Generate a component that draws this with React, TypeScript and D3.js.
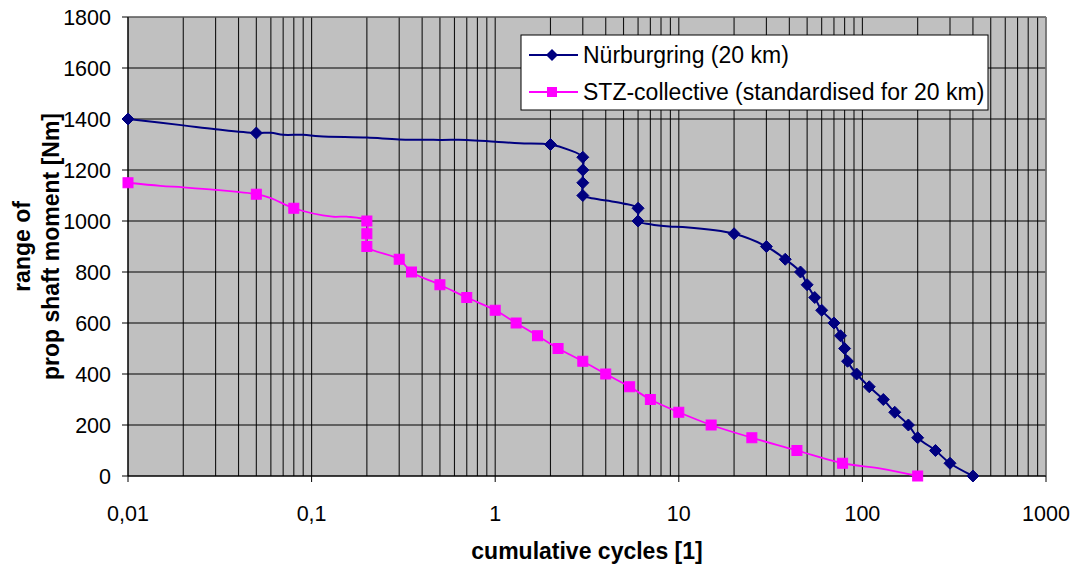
import React from "react";
import * as d3 from "d3";

// ---- data ----
const xTicks = [0.01, 0.1, 1, 10, 100, 1000];
const xTickLabels = ["0,01", "0,1", "1", "10", "100", "1000"];
const yTicks = [0, 200, 400, 600, 800, 1000, 1200, 1400, 1600, 1800];

const seriesNames = ["Nürburgring (20 km)", "STZ-collective (standardised for 20 km)"];

// Nürburgring: marker points
const nurMarkers: [number, number][] = [
  [0.01, 1400], [0.05, 1345], [2, 1300], [3, 1250], [3, 1200], [3, 1150], [3, 1100],
  [6, 1050], [6, 1000], [20, 950], [30, 900], [38, 850], [46, 800], [50, 750], [55, 700],
  [60, 650], [70, 600], [76, 550], [80, 500], [83, 450], [93, 400], [109, 350], [130, 300],
  [150, 250], [178, 200], [200, 150], [250, 100], [300, 50], [400, 0],
];
// Nürburgring: line trace (denser)
const nurLine: [number, number][] = [
  [0.01, 1400], [0.02, 1375], [0.03, 1360], [0.05, 1345], [0.06, 1346], [0.07, 1338],
  [0.09, 1338], [0.11, 1332], [0.2, 1327], [0.3, 1320], [0.5, 1318], [0.7, 1318],
  [1, 1311], [1.36, 1305], [2, 1300], [2.5, 1280], [3, 1250], [3, 1200], [3, 1150], [3, 1100],
  [3.27, 1091], [4.04, 1080], [4.97, 1069], [6, 1050], [6, 1000], [7, 987], [8.9, 978],
  [10.5, 976], [20, 950], [30, 900], [38, 850], [46, 800], [50, 750], [55, 700], [60, 650],
  [70, 600], [76, 550], [80, 500], [83, 450], [93, 400], [109, 350], [130, 300], [150, 250],
  [178, 200], [200, 150], [250, 100], [300, 50], [400, 0],
];

// STZ-collective: marker points
const stzMarkers: [number, number][] = [
  [0.01, 1150], [0.05, 1105], [0.08, 1050], [0.2, 1000], [0.2, 950], [0.2, 900], [0.3, 850],
  [0.35, 800], [0.5, 750], [0.7, 700], [1, 650], [1.3, 600], [1.7, 550], [2.2, 500], [3, 450],
  [4, 400], [5.4, 350], [7, 300], [10, 250], [15, 200], [25, 150], [44, 100], [78, 50], [200, 0],
];
// STZ-collective: line trace
const stzLine: [number, number][] = [
  [0.01, 1150], [0.015, 1138], [0.02, 1132], [0.03, 1122], [0.05, 1105], [0.06, 1090],
  [0.08, 1050], [0.13, 1017], [0.155, 1017], [0.2, 1000], [0.2, 950], [0.2, 900], [0.3, 850],
  [0.35, 800], [0.5, 750], [0.7, 700], [1, 650], [1.3, 600], [1.7, 550], [2.2, 500], [3, 450],
  [4, 400], [5.4, 350], [7, 300], [10, 250], [15, 200], [25, 150], [44, 100], [78, 50],
  [124, 30], [200, 0],
];

const NAVY = "#000080";
const PINK = "#FF00FF";

export default function App() {
  const W = 1074, H = 567;
  const left = 128, right = 1046, top = 17, bottom = 476;
  const x = d3.scaleLog().domain([0.01, 1000]).range([left, right]);
  const y = d3.scaleLinear().domain([0, 1800]).range([bottom, top]);

  const minor: number[] = [];
  for (let e = -2; e < 3; e++) {
    for (let k = 1; k <= 9; k++) minor.push(k * Math.pow(10, e));
  }
  minor.push(1000);

  const line = d3
    .line<[number, number]>()
    .x((d) => x(d[0]))
    .y((d) => y(d[1]))
    .curve(d3.curveCatmullRom.alpha(0.5));

  const font = "'Liberation Sans', Arial, sans-serif";

  const diamond = (cx: number, cy: number, r: number) =>
    `M${cx},${cy - r}L${cx + r},${cy}L${cx},${cy + r}L${cx - r},${cy}Z`;

  const legX = 521, legY = 35, legW = 467, legH = 75;

  return (
    <svg
      width={W}
      height={H}
      style={{ position: "absolute", left: 0, top: 0, display: "block", background: "#fff" }}
      fontFamily={font}
    >
      <rect x={left} y={top} width={right - left} height={bottom - top} fill="#C0C0C0" />
      {minor.map((v, i) => (
        <line key={"v" + i} x1={x(v)} x2={x(v)} y1={top} y2={bottom} stroke="#000" strokeWidth={1.1} opacity={0.9} />
      ))}
      {yTicks.map((v) => (
        <line key={"h" + v} x1={left} x2={right} y1={y(v)} y2={y(v)} stroke="#000" strokeWidth={1} />
      ))}
      {/* plot border */}
      <line x1={left} x2={right} y1={top} y2={top} stroke="#808080" strokeWidth={1.2} />
      <line x1={right} x2={right} y1={top} y2={bottom} stroke="#808080" strokeWidth={1.5} />
      {/* axes */}
      <line x1={left} x2={left} y1={top} y2={bottom} stroke="#000" strokeWidth={1} />
      <line x1={left} x2={right} y1={bottom} y2={bottom} stroke="#000" strokeWidth={1} />
      {yTicks.map((v) => (
        <g key={"yt" + v}>
          <line x1={left - 6} x2={left} y1={y(v)} y2={y(v)} stroke="#000" />
          <text x={111} y={y(v) + 7.6} textAnchor="end" fontSize={21.5} fill="#000">
            {v}
          </text>
        </g>
      ))}
      {xTicks.map((v, i) => (
        <g key={"xt" + v}>
          <line x1={x(v)} x2={x(v)} y1={bottom} y2={bottom + 6} stroke="#000" />
          <text x={x(v)} y={521} textAnchor="middle" fontSize={21.5} fill="#000">
            {xTickLabels[i]}
          </text>
        </g>
      ))}
      {/* axis titles */}
      <text x={(left + right) / 2} y={559} textAnchor="middle" fontSize={23} fontWeight="bold" fill="#000">
        cumulative cycles [1]
      </text>
      <g transform={`translate(0,${(top + bottom) / 2}) rotate(-90)`}>
        <text x={0} y={30} textAnchor="middle" fontSize={23} fontWeight="bold" fill="#000">
          range of
        </text>
        <text x={0} y={59} textAnchor="middle" fontSize={23} fontWeight="bold" fill="#000">
          prop shaft moment [Nm]
        </text>
      </g>
      {/* series */}
      <path d={line(nurLine) || ""} fill="none" stroke={NAVY} strokeWidth={2} />
      <path d={line(stzLine) || ""} fill="none" stroke={PINK} strokeWidth={1.8} />
      {nurMarkers.map((d, i) => (
        <path key={"nm" + i} d={diamond(x(d[0]), y(d[1]), 6)} fill={NAVY} stroke={NAVY} strokeWidth={1} />
      ))}
      {stzMarkers.map((d, i) => (
        <rect key={"sm" + i} x={x(d[0]) - 5} y={y(d[1]) - 5} width={10} height={10} fill={PINK} stroke={PINK} strokeWidth={1} />
      ))}
      {/* legend */}
      <rect x={legX} y={legY} width={legW} height={legH} fill="#fff" stroke="#000" strokeWidth={1} />
      <line x1={529} x2={578} y1={55} y2={55} stroke={NAVY} strokeWidth={2} />
      <path d={diamond(552, 55, 6)} fill={NAVY} />
      <text x={583} y={63} fontSize={23} fill="#000">{seriesNames[0]}</text>
      <line x1={529} x2={578} y1={92} y2={92} stroke={PINK} strokeWidth={1.8} />
      <rect x={547} y={87} width={10} height={10} fill={PINK} />
      <text x={583} y={100} fontSize={23} fill="#000">{seriesNames[1]}</text>
    </svg>
  );
}
